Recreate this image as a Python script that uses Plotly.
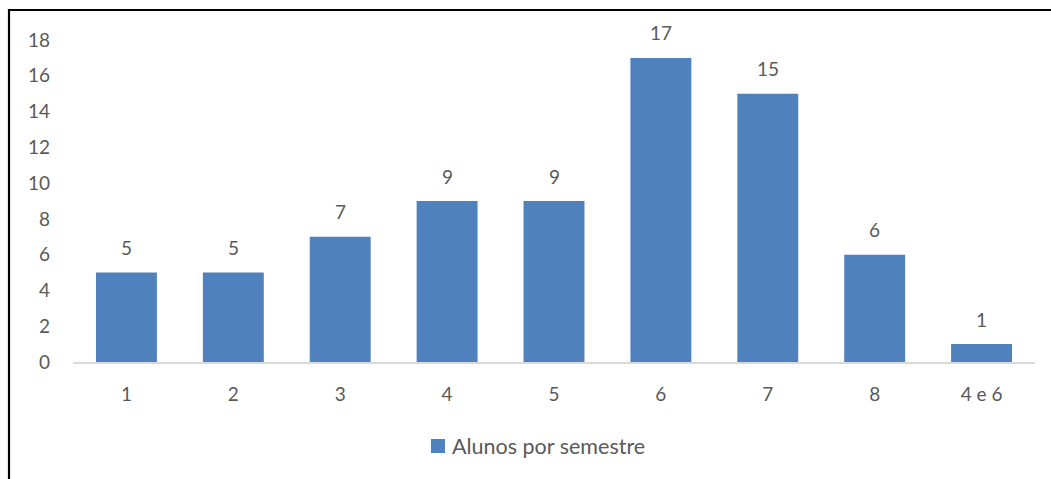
import plotly.graph_objects as go

# Alunos por semestre
semestres = ["1", "2", "3", "4", "5", "6", "7", "8", "4 e 6"]
alunos = [5, 5, 7, 9, 9, 17, 15, 6, 1]
y_ticks = [0, 2, 4, 6, 8, 10, 12, 14, 16, 18]
serie_nome = "Alunos por semestre"

W, H = 1051, 479
ML, MR, MT, MB = 73, 16, 40, 117
PW, PH = W - ML - MR, H - MT - MB

FONT = "Lato, 'Open Sans', sans-serif"
GREY = "#595959"
BLUE = "#4F81BD"

fig = go.Figure()
fig.add_trace(go.Bar(
    x=semestres,
    y=alunos,
    name=serie_nome,
    marker=dict(color=BLUE, line=dict(width=0)),
    hoverinfo="x+y",
    showlegend=False,
))

# value labels above each bar (category positions by index)
for i, val in enumerate(alunos):
    fig.add_annotation(
        x=i, y=val, text=str(val), showarrow=False,
        yanchor="middle", yshift=25,
        font=dict(family=FONT, size=19, color=GREY),
    )

def px_x(p):
    return (p - ML) / PW

def px_y(p):
    return 1 - (p - MT) / PH

# frame lines along top and left edges
fig.add_shape(type="line", xref="paper", yref="paper",
              x0=px_x(8), x1=px_x(W + 5), y0=px_y(10), y1=px_y(10),
              line=dict(color="black", width=2.2), layer="above")
fig.add_shape(type="line", xref="paper", yref="paper",
              x0=px_x(9), x1=px_x(9), y0=px_y(9), y1=px_y(H + 5),
              line=dict(color="black", width=2.2), layer="above")

# legend: colour key + series name
fig.add_shape(type="rect", xref="paper", yref="paper",
              x0=px_x(431), x1=px_x(445), y0=px_y(439), y1=px_y(453),
              fillcolor=BLUE, line=dict(width=0))
fig.add_annotation(
    xref="paper", yref="paper", x=px_x(450), y=px_y(446),
    xanchor="left", yanchor="middle", text=serie_nome, showarrow=False,
    font=dict(family=FONT, size=21.5, color=GREY),
)

fig.update_layout(
    width=W, height=H,
    margin=dict(l=ML, r=MR, t=MT, b=MB, pad=0),
    paper_bgcolor="white", plot_bgcolor="white",
    bargap=0.43,
    showlegend=False,
    font=dict(family=FONT, size=19, color=GREY),
)
fig.update_xaxes(
    showgrid=False, showline=True, linecolor="#D9D9D9", linewidth=2,
    ticks="", ticklabelstandoff=14,
    tickfont=dict(family=FONT, size=19, color=GREY),
    fixedrange=True,
)
fig.update_yaxes(
    range=[0, 18], tickvals=y_ticks, showgrid=False, showline=False,
    zeroline=False, ticks="", ticklabelstandoff=22,
    tickfont=dict(family=FONT, size=19, color=GREY),
    fixedrange=True,
)

fig.write_html("out.html", config={"displayModeBar": False})
